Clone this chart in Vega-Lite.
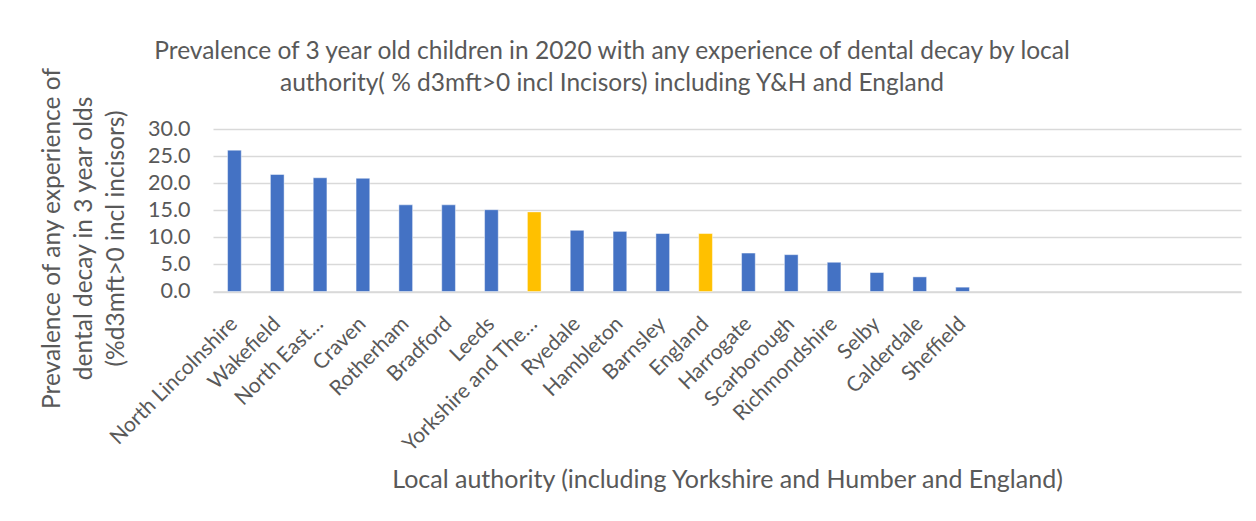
{
  "$schema": "https://vega.github.io/schema/vega-lite/v6.json",
  "autosize": "none",
  "width": 1028,
  "height": 162.5,
  "padding": {"left": 213, "top": 129, "right": 15, "bottom": 229},
  "background": "white",
  "config": {
    "font": "Lato",
    "view": {"stroke": null},
    "title": {"font": "Lato", "color": "#595959", "fontWeight": "normal"},
    "axis": {"labelFont": "Lato", "titleFont": "Lato", "labelColor": "#595959", "titleColor": "#595959", "titleFontWeight": "normal"}
  },
  "title": {
    "text": ["Prevalence of 3 year old children in 2020 with any experience of dental decay by local", "authority( % d3mft>0 incl Incisors) including Y&H and England"],
    "fontSize": 24.5,
    "lineHeight": 32,
    "anchor": "middle",
    "frame": "group",
    "dx": -115,
    "offset": -30
  },
  "data": {
    "values": [
      {"area": "North Lincolnshire", "value": 26.1, "kind": "Local authority"},
      {"area": "Wakefield", "value": 21.6, "kind": "Local authority"},
      {"area": "North East Lincolnshire", "value": 21.0, "kind": "Local authority"},
      {"area": "Craven", "value": 20.9, "kind": "Local authority"},
      {"area": "Rotherham", "value": 16.0, "kind": "Local authority"},
      {"area": "Bradford", "value": 16.0, "kind": "Local authority"},
      {"area": "Leeds", "value": 15.1, "kind": "Local authority"},
      {"area": "Yorkshire and The Humber", "value": 14.7, "kind": "Comparator"},
      {"area": "Ryedale", "value": 11.3, "kind": "Local authority"},
      {"area": "Hambleton", "value": 11.1, "kind": "Local authority"},
      {"area": "Barnsley", "value": 10.7, "kind": "Local authority"},
      {"area": "England", "value": 10.7, "kind": "Comparator"},
      {"area": "Harrogate", "value": 7.1, "kind": "Local authority"},
      {"area": "Scarborough", "value": 6.8, "kind": "Local authority"},
      {"area": "Richmondshire", "value": 5.4, "kind": "Local authority"},
      {"area": "Selby", "value": 3.5, "kind": "Local authority"},
      {"area": "Calderdale", "value": 2.7, "kind": "Local authority"},
      {"area": "Sheffield", "value": 0.8, "kind": "Local authority"}
    ]
  },
  "mark": {"type": "bar", "stroke": "#ffffff", "strokeOpacity": 0.45, "strokeWidth": 1},
  "encoding": {
    "x": {
      "field": "area",
      "type": "nominal",
      "sort": null,
      "scale": {
        "domain": ["North Lincolnshire", "Wakefield", "North East Lincolnshire", "Craven", "Rotherham", "Bradford", "Leeds", "Yorkshire and The Humber", "Ryedale", "Hambleton", "Barnsley", "England", "Harrogate", "Scarborough", "Richmondshire", "Selby", "Calderdale", "Sheffield", " ", "  ", "   ", "    ", "     ", "      "],
        "paddingInner": 0.68,
        "paddingOuter": 0.34
      },
      "axis": {
        "title": "Local authority (including Yorkshire and Humber and England)",
        "titleFontSize": 25,
        "titleX": 514,
        "titleY": 188,
        "titleAlign": "center",
        "titleBaseline": "middle",
        "labelAngle": -45,
        "labelAlign": "right",
        "labelBaseline": "middle",
        "labelFontSize": 21,
        "labelPadding": 29,
        "labelLimit": 400,
        "labelExpr": "datum.value == 'North East Lincolnshire' ? 'North East…' : datum.value == 'Yorkshire and The Humber' ? 'Yorkshire and The…' : datum.value",
        "ticks": false,
        "domainColor": "#D9D9D9",
        "domainWidth": 1.5,
        "grid": false
      }
    },
    "y": {
      "field": "value",
      "type": "quantitative",
      "scale": {"domain": [0, 30]},
      "axis": {
        "values": [0, 5, 10, 15, 20, 25, 30],
        "format": ".1f",
        "title": ["Prevalence of any experience of", "dental decay in 3 year olds", "(%d3mft>0 incl incisors)"],
        "titleFontSize": 24.5,
        "titleLineHeight": 32,
        "titleAngle": -90,
        "titleAlign": "center",
        "titleBaseline": "top",
        "titleX": -173,
        "titleY": 109,
        "labelFontSize": 21.5,
        "labelPadding": 23,
        "ticks": false,
        "domain": false,
        "grid": true,
        "gridColor": "#D9D9D9",
        "gridWidth": 1.5
      }
    },
    "color": {
      "field": "kind",
      "type": "nominal",
      "scale": {"domain": ["Local authority", "Comparator"], "range": ["#4472C4", "#FFC000"]},
      "legend": null
    }
  }
}
